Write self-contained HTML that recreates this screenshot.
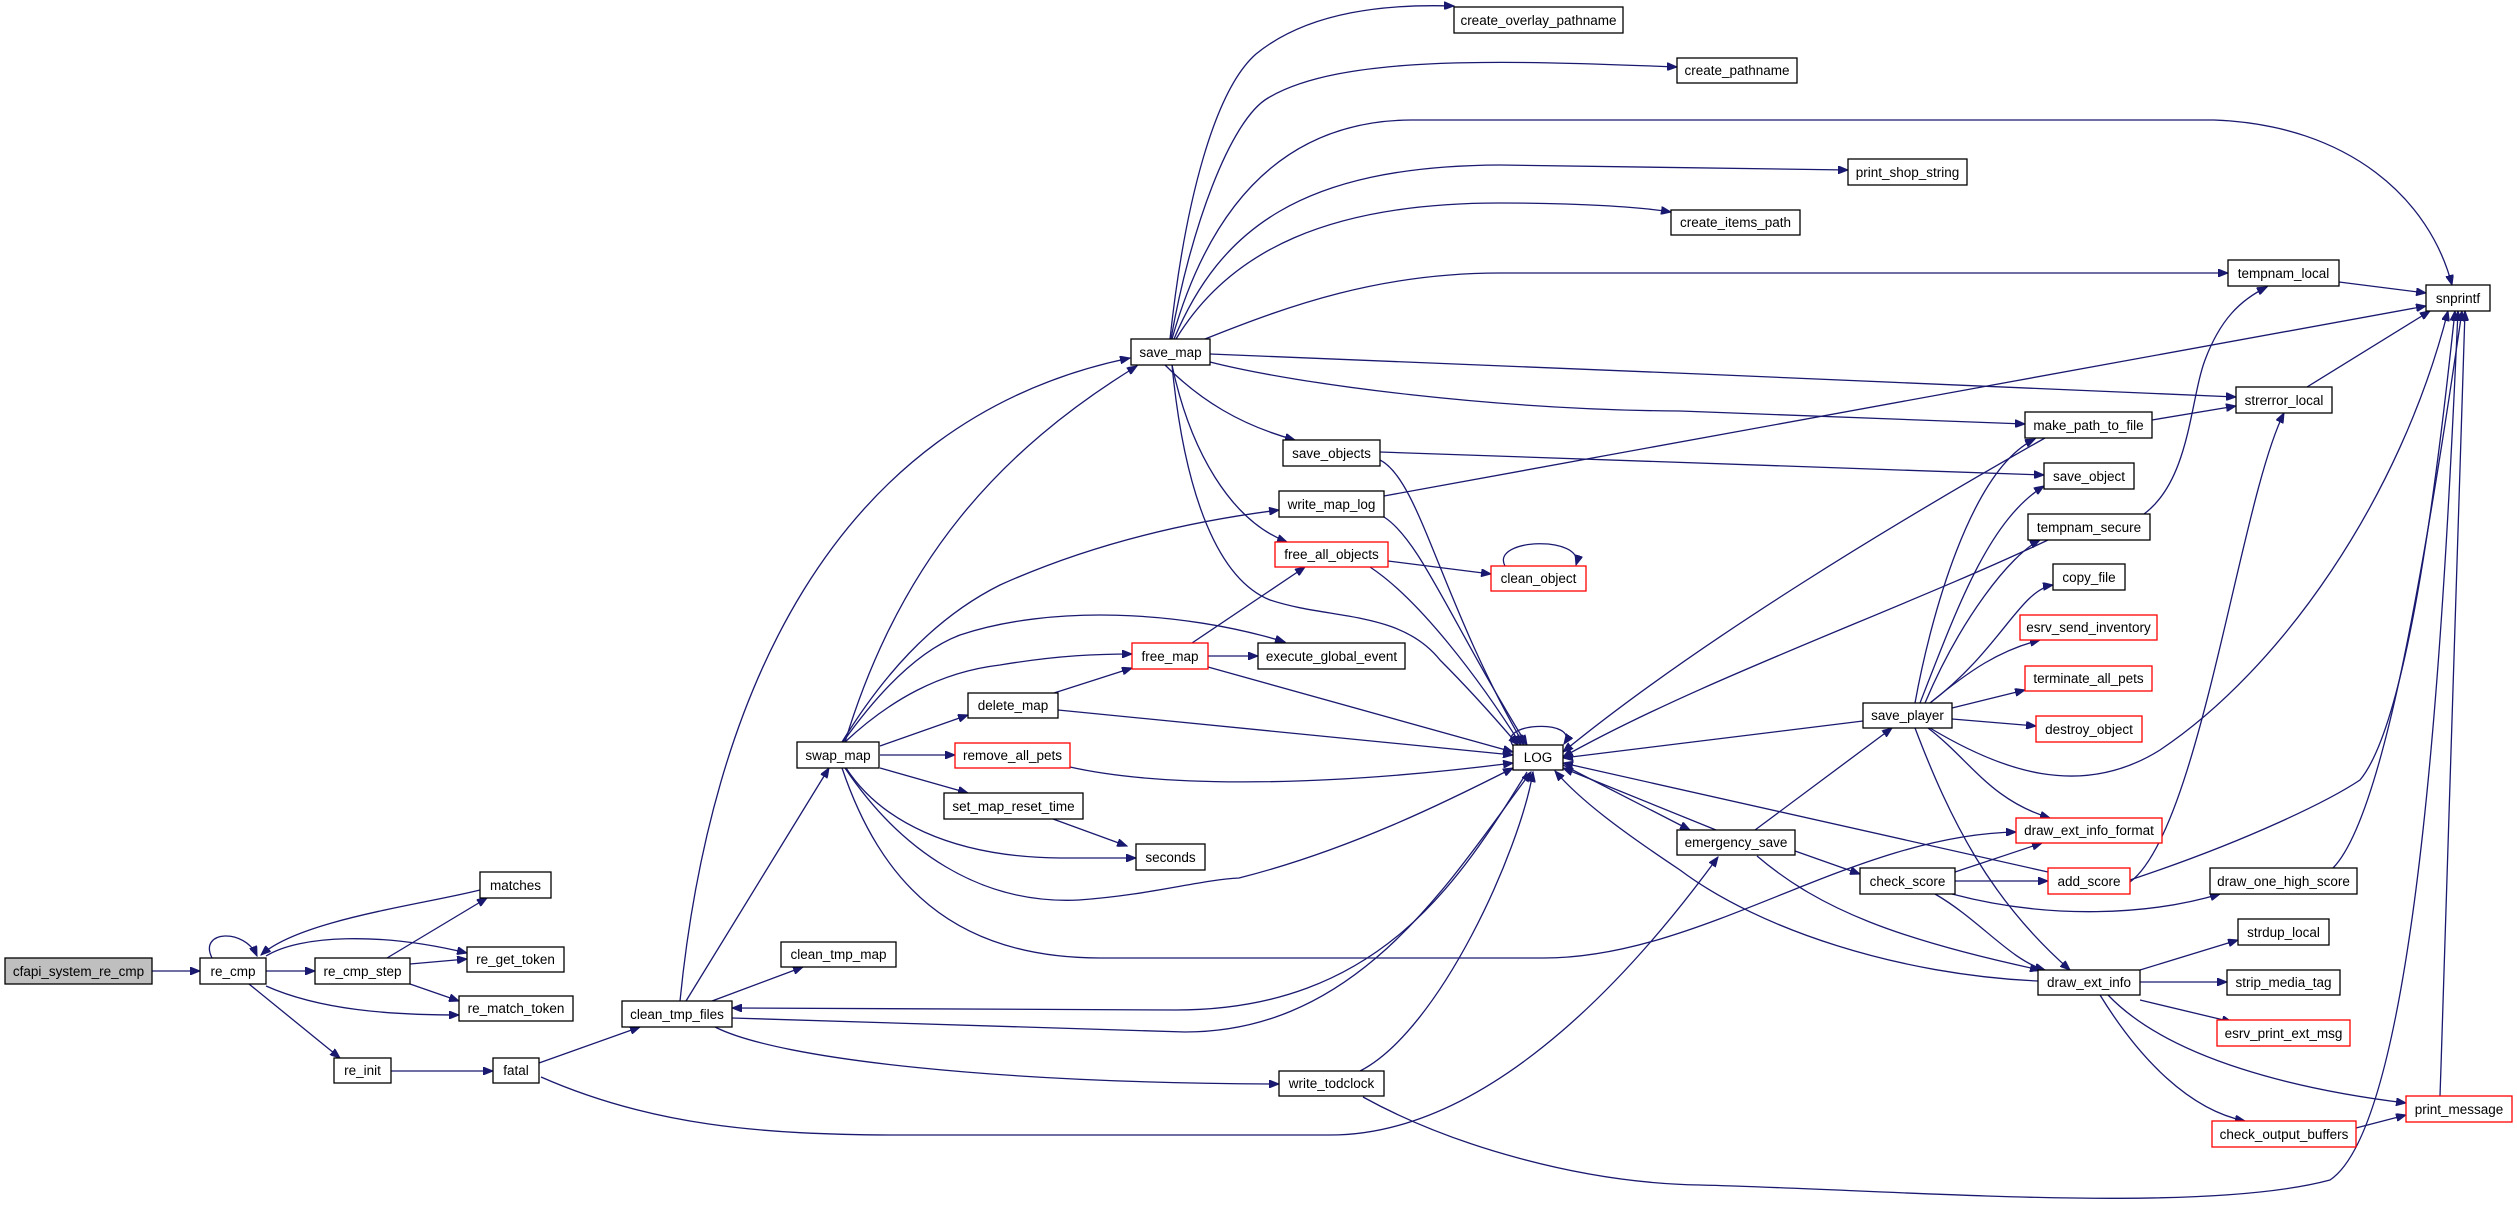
<!DOCTYPE html>
<html><head><meta charset="utf-8"><style>
html,body{margin:0;padding:0;background:#fff}
svg{display:block}
text{font-family:"Liberation Sans",sans-serif;font-size:13.5px;fill:#000}
.e{fill:none;stroke:#191970;stroke-width:1.3}
.n{fill:#fff;stroke:#000;stroke-width:1.3}
.r{fill:#fff;stroke:#ff0000;stroke-width:1.3}
</style></head><body>
<svg width="2517" height="1211" viewBox="0 0 2517 1211" xmlns="http://www.w3.org/2000/svg">
<defs><marker id="a" markerUnits="userSpaceOnUse" markerWidth="11" markerHeight="8" refX="10" refY="4" orient="auto"><path d="M0,0 L10,4 L0,8 z" fill="#191970" stroke="#191970"/></marker></defs>
<g class="e" marker-end="url(#a)">
<path d="M152,971 L200,971"/>
<path d="M212,958 C198,930 245,928 257,956"/>
<path d="M266,971 L315,971"/>
<path d="M266,956 C300,935 380,932 467,953"/>
<path d="M266,986 C320,1010 390,1015 459,1015"/>
<path d="M249,984 L340,1058"/>
<path d="M387,958 L487,898"/>
<path d="M410,964 L467,959"/>
<path d="M410,984 L459,1001"/>
<path d="M480,890 C420,905 300,920 261,955"/>
<path d="M391,1071 L493,1071"/>
<path d="M539,1063 L640,1027"/>
<path d="M541,1077 C650,1125 760,1135 900,1135 L1330,1135 C1500,1135 1650,950 1718,857"/>
<path d="M680,1001 C710,700 830,420 1130,358"/>
<path d="M845,742 C900,560 1000,450 1137,366"/>
<path d="M686,1001 L829,768"/>
<path d="M712,1001 L803,967"/>
<path d="M1527,772 C1460,880 1380,1010 1176,1010 L732,1008"/>
<path d="M732,1018 L1185,1032 C1360,1032 1450,880 1531,772"/>
<path d="M715,1027 C780,1060 1000,1083 1279,1084"/>
<path d="M1360,1071 C1440,1030 1520,850 1533,772"/>
<path d="M1363,1097 C1450,1145 1580,1183 1700,1185 C1900,1190 2200,1215 2330,1180 C2420,1120 2445,600 2458,311"/>
<path d="M1170,339 C1185,200 1215,90 1256,54 C1310,10 1390,4 1454,6"/>
<path d="M1171,339 C1190,230 1230,120 1268,98 C1340,55 1500,60 1677,67"/>
<path d="M1172,339 C1200,240 1260,121 1411,120 L2214,120 C2350,125 2430,200 2452,285"/>
<path d="M1174,339 C1220,230 1300,166 1500,165 L1848,170"/>
<path d="M1176,339 C1230,250 1330,203 1500,203 C1580,203 1640,207 1671,212"/>
<path d="M1205,339 C1290,305 1380,273 1500,273 L2228,273"/>
<path d="M1210,354 L1700,374 L2236,397"/>
<path d="M1210,362 C1300,385 1500,410 1680,411 L2025,424"/>
<path d="M1165,365 C1200,400 1240,425 1295,440"/>
<path d="M1172,365 C1190,450 1230,520 1287,542"/>
<path d="M1172,365 C1185,500 1220,580 1270,600 C1330,620 1400,610 1440,660 C1480,700 1505,730 1518,745"/>
<path d="M1380,452 L2044,475"/>
<path d="M1380,460 C1420,480 1440,600 1524,745"/>
<path d="M1384,496 L2426,306"/>
<path d="M1384,517 C1420,540 1450,620 1527,745"/>
<path d="M1388,561 L1491,574"/>
<path d="M1370,567 C1420,600 1480,680 1521,745"/>
<path d="M1505,566 C1490,538 1585,535 1576,565"/>
<path d="M1192,643 L1305,567"/>
<path d="M1208,656 L1258,656"/>
<path d="M1208,667 L1513,752"/>
<path d="M1054,693 L1132,668"/>
<path d="M1058,710 L1513,755"/>
<path d="M842,742 C880,680 930,620 1000,585 C1100,540 1200,520 1279,510"/>
<path d="M843,742 C880,690 920,650 960,635 C1050,605 1180,610 1285,642"/>
<path d="M845,742 C890,700 940,672 1000,665 C1060,655 1100,654 1132,654"/>
<path d="M880,746 L968,715"/>
<path d="M880,755 L955,755"/>
<path d="M880,768 L968,793"/>
<path d="M846,768 C880,820 950,857 1060,858 L1136,858"/>
<path d="M845,768 C900,850 980,905 1079,900 C1150,895 1200,880 1239,878 C1350,850 1450,800 1513,768"/>
<path d="M842,768 C880,880 950,958 1100,958 L1540,958 C1700,960 1850,835 2016,832"/>
<path d="M1070,767 C1150,785 1300,790 1513,763"/>
<path d="M1053,819 L1127,846"/>
<path d="M1515,748 C1490,722 1582,718 1564,744"/>
<path d="M1563,765 L1690,830"/>
<path d="M1716,830 L1563,768"/>
<path d="M1755,830 L1892,728"/>
<path d="M1795,851 L1860,874"/>
<path d="M1757,856 C1820,910 1900,940 2040,970"/>
<path d="M1863,721 L1563,758"/>
<path d="M1915,703 C1930,620 1970,470 2035,439"/>
<path d="M1920,703 C1960,600 1990,520 2044,486"/>
<path d="M1925,703 C1960,620 2010,555 2040,540"/>
<path d="M1930,703 C2000,650 2020,590 2053,585"/>
<path d="M1930,703 C1970,670 2000,650 2040,640"/>
<path d="M1952,708 L2025,690"/>
<path d="M1952,719 L2036,726"/>
<path d="M1928,728 C1970,760 1990,800 2050,818"/>
<path d="M1915,728 C1950,820 1990,900 2070,970"/>
<path d="M1930,728 C2000,770 2080,800 2160,750 C2280,670 2400,500 2448,311"/>
<path d="M2045,438 C1900,520 1700,640 1563,752"/>
<path d="M2048,540 C1900,610 1700,680 1563,757"/>
<path d="M2144,514 C2190,480 2190,400 2205,360 C2220,320 2240,300 2267,287"/>
<path d="M2339,282 L2426,293"/>
<path d="M2307,387 L2430,311"/>
<path d="M2152,420 L2236,406"/>
<path d="M1955,872 L2042,843"/>
<path d="M1955,881 L2048,881"/>
<path d="M1952,894 C2050,920 2150,915 2220,894"/>
<path d="M1935,894 C1980,920 2010,960 2045,970"/>
<path d="M2048,872 L1563,763"/>
<path d="M2130,882 C2200,830 2240,500 2284,413"/>
<path d="M2130,880 C2250,840 2330,800 2360,780 C2410,720 2440,450 2455,311"/>
<path d="M2333,868 C2380,820 2420,600 2462,311"/>
<path d="M2038,981 C1900,975 1760,930 1680,870 C1620,830 1580,800 1555,771"/>
<path d="M2140,970 L2238,940"/>
<path d="M2140,982 L2227,982"/>
<path d="M2140,1000 L2232,1022"/>
<path d="M2108,995 C2170,1060 2300,1090 2406,1103"/>
<path d="M2100,995 C2140,1060 2190,1110 2245,1121"/>
<path d="M2356,1128 L2406,1115"/>
<path d="M2440,1096 C2450,800 2460,500 2465,311"/>
</g>
<g>
<rect x="5" y="958" width="147" height="26" fill="#bfbfbf" stroke="#000" stroke-width="1.3"/><text x="78.5" y="976" text-anchor="middle">cfapi_system_re_cmp</text>
<rect class="n" x="200" y="958" width="66" height="26"/><text x="233" y="976" text-anchor="middle">re_cmp</text>
<rect class="n" x="315" y="958" width="95" height="26"/><text x="362.5" y="976" text-anchor="middle">re_cmp_step</text>
<rect class="n" x="480" y="872" width="71" height="26"/><text x="515.5" y="890" text-anchor="middle">matches</text>
<rect class="n" x="467" y="947" width="97" height="25"/><text x="515.5" y="964" text-anchor="middle">re_get_token</text>
<rect class="n" x="459" y="996" width="114" height="25"/><text x="516" y="1013" text-anchor="middle">re_match_token</text>
<rect class="n" x="334" y="1058" width="57" height="25"/><text x="362.5" y="1075" text-anchor="middle">re_init</text>
<rect class="n" x="493" y="1058" width="46" height="25"/><text x="516" y="1075" text-anchor="middle">fatal</text>
<rect class="n" x="622" y="1001" width="110" height="26"/><text x="677" y="1019" text-anchor="middle">clean_tmp_files</text>
<rect class="n" x="781" y="942" width="115" height="25"/><text x="838.5" y="959" text-anchor="middle">clean_tmp_map</text>
<rect class="n" x="797" y="742" width="82" height="26"/><text x="838" y="760" text-anchor="middle">swap_map</text>
<rect class="n" x="1131" y="339" width="79" height="26"/><text x="1170.5" y="357" text-anchor="middle">save_map</text>
<rect class="n" x="1454" y="7" width="169" height="26"/><text x="1538.5" y="25" text-anchor="middle">create_overlay_pathname</text>
<rect class="n" x="1677" y="58" width="120" height="25"/><text x="1737" y="75" text-anchor="middle">create_pathname</text>
<rect class="n" x="1848" y="159" width="119" height="26"/><text x="1907.5" y="177" text-anchor="middle">print_shop_string</text>
<rect class="n" x="1671" y="210" width="129" height="25"/><text x="1735.5" y="227" text-anchor="middle">create_items_path</text>
<rect class="n" x="2228" y="260" width="111" height="26"/><text x="2283.5" y="278" text-anchor="middle">tempnam_local</text>
<rect class="n" x="2426" y="285" width="64" height="26"/><text x="2458" y="303" text-anchor="middle">snprintf</text>
<rect class="n" x="2236" y="387" width="96" height="26"/><text x="2284" y="405" text-anchor="middle">strerror_local</text>
<rect class="n" x="2025" y="412" width="127" height="26"/><text x="2088.5" y="430" text-anchor="middle">make_path_to_file</text>
<rect class="n" x="2044" y="463" width="90" height="26"/><text x="2089" y="481" text-anchor="middle">save_object</text>
<rect class="n" x="2028" y="514" width="122" height="26"/><text x="2089" y="532" text-anchor="middle">tempnam_secure</text>
<rect class="n" x="2053" y="564" width="72" height="26"/><text x="2089" y="582" text-anchor="middle">copy_file</text>
<rect class="r" x="2020" y="615" width="137" height="25"/><text x="2088.5" y="632" text-anchor="middle">esrv_send_inventory</text>
<rect class="r" x="2025" y="666" width="127" height="25"/><text x="2088.5" y="683" text-anchor="middle">terminate_all_pets</text>
<rect class="n" x="1863" y="703" width="89" height="25"/><text x="1907.5" y="720" text-anchor="middle">save_player</text>
<rect class="r" x="2036" y="716" width="106" height="26"/><text x="2089" y="734" text-anchor="middle">destroy_object</text>
<rect class="n" x="1283" y="440" width="97" height="26"/><text x="1331.5" y="458" text-anchor="middle">save_objects</text>
<rect class="n" x="1279" y="491" width="105" height="26"/><text x="1331.5" y="509" text-anchor="middle">write_map_log</text>
<rect class="r" x="1275" y="542" width="113" height="25"/><text x="1331.5" y="559" text-anchor="middle">free_all_objects</text>
<rect class="r" x="1491" y="566" width="95" height="25"/><text x="1538.5" y="583" text-anchor="middle">clean_object</text>
<rect class="r" x="1132" y="643" width="76" height="26"/><text x="1170" y="661" text-anchor="middle">free_map</text>
<rect class="n" x="1258" y="643" width="147" height="26"/><text x="1331.5" y="661" text-anchor="middle">execute_global_event</text>
<rect class="n" x="968" y="693" width="90" height="25"/><text x="1013" y="710" text-anchor="middle">delete_map</text>
<rect class="r" x="955" y="743" width="115" height="25"/><text x="1012.5" y="760" text-anchor="middle">remove_all_pets</text>
<rect class="n" x="944" y="793" width="139" height="26"/><text x="1013.5" y="811" text-anchor="middle">set_map_reset_time</text>
<rect class="n" x="1136" y="844" width="69" height="26"/><text x="1170.5" y="862" text-anchor="middle">seconds</text>
<rect class="n" x="1513" y="745" width="50" height="25"/><text x="1538" y="762" text-anchor="middle">LOG</text>
<rect class="n" x="1677" y="830" width="118" height="25"/><text x="1736" y="847" text-anchor="middle">emergency_save</text>
<rect class="r" x="2016" y="818" width="146" height="25"/><text x="2089" y="835" text-anchor="middle">draw_ext_info_format</text>
<rect class="n" x="1860" y="868" width="95" height="26"/><text x="1907.5" y="886" text-anchor="middle">check_score</text>
<rect class="r" x="2048" y="868" width="82" height="26"/><text x="2089" y="886" text-anchor="middle">add_score</text>
<rect class="n" x="2210" y="868" width="147" height="26"/><text x="2283.5" y="886" text-anchor="middle">draw_one_high_score</text>
<rect class="n" x="2238" y="919" width="91" height="26"/><text x="2283.5" y="937" text-anchor="middle">strdup_local</text>
<rect class="n" x="2038" y="970" width="102" height="25"/><text x="2089" y="987" text-anchor="middle">draw_ext_info</text>
<rect class="n" x="2227" y="970" width="113" height="25"/><text x="2283.5" y="987" text-anchor="middle">strip_media_tag</text>
<rect class="r" x="2217" y="1020" width="133" height="26"/><text x="2283.5" y="1038" text-anchor="middle">esrv_print_ext_msg</text>
<rect class="r" x="2406" y="1096" width="106" height="26"/><text x="2459" y="1114" text-anchor="middle">print_message</text>
<rect class="r" x="2212" y="1121" width="144" height="26"/><text x="2284" y="1139" text-anchor="middle">check_output_buffers</text>
<rect class="n" x="1279" y="1071" width="105" height="25"/><text x="1331.5" y="1088" text-anchor="middle">write_todclock</text>
</g>
</svg>
</body></html>
